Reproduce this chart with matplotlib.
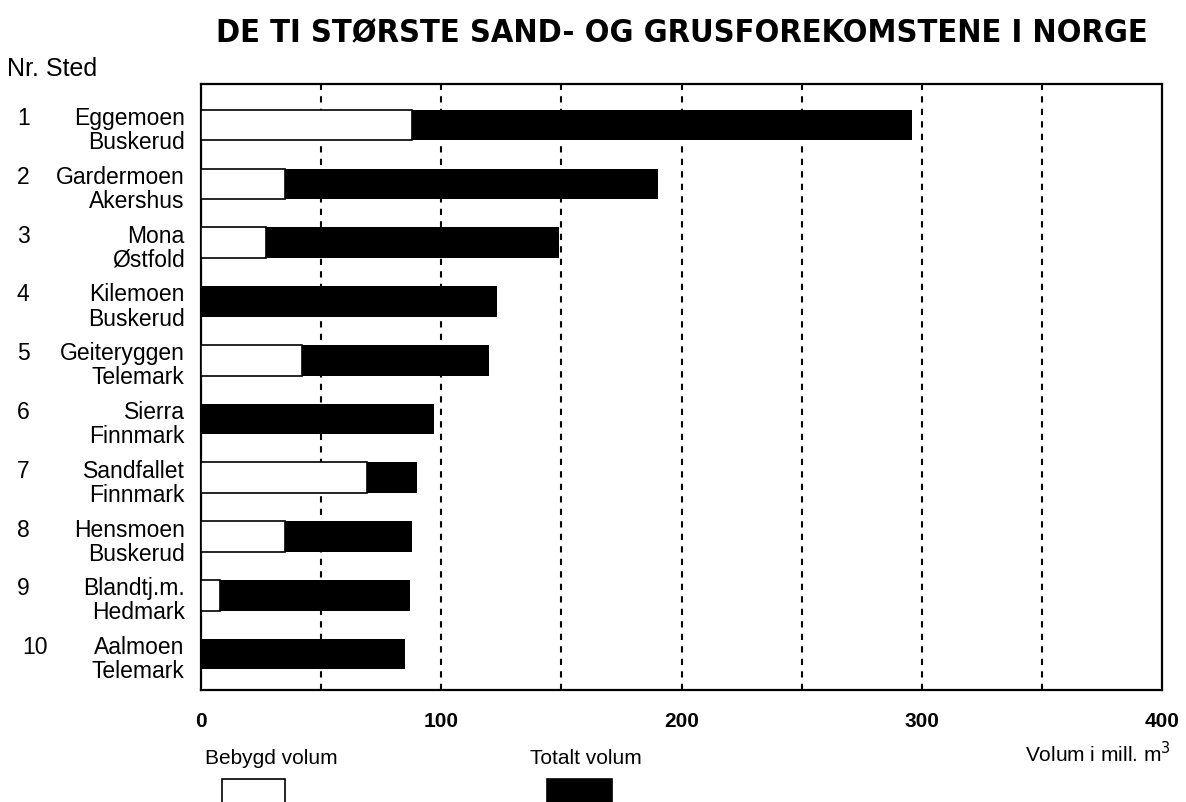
import matplotlib.pyplot as plt
from matplotlib.patches import Rectangle

plt.rcParams['font.family'] = ['Liberation Sans', 'DejaVu Sans']

# data (mill. m3)
nr = ['1', '2', '3', '4', '5', '6', '7', '8', '9', '10']
sted = ['Eggemoen', 'Gardermoen', 'Mona', 'Kilemoen', 'Geiteryggen',
        'Sierra', 'Sandfallet', 'Hensmoen', 'Blandtj.m.', 'Aalmoen']
fylke = ['Buskerud', 'Akershus', 'Østfold', 'Buskerud', 'Telemark',
         'Finnmark', 'Finnmark', 'Buskerud', 'Hedmark', 'Telemark']
totalt = [296, 190, 149, 123, 120, 97, 90, 88, 87, 85]
bebygd = [88, 35, 27, 0, 42, 0, 69, 35, 8, 0]
x_ticks = [0, 100, 200, 300, 400]

fig = plt.figure(figsize=(11.86, 8.02), dpi=100)
ax = fig.add_axes([0.1695, 0.1397, 0.8103, 0.7556])

pos = list(range(len(sted)))
ax.barh(pos, totalt, height=0.52, color='black', zorder=2)
lw = [1.2 if b > 0 else 0 for b in bebygd]
ax.barh(pos, bebygd, height=0.52, color='white', edgecolor='black',
        linewidth=lw, zorder=3)

ax.set_xlim(0, 400)
ax.set_ylim(9.61, -0.70)
for gx in range(50, 400, 50):
    ax.axvline(gx, color='black', lw=1.5, ls=(0, (3, 3)), zorder=1)

ax.set_yticks([])
ax.set_xticks(x_ticks)
ax.set_xticklabels([str(t) for t in x_ticks], fontsize=15, fontweight='bold')
ax.tick_params(axis='x', length=0, pad=16)
for sp in ax.spines.values():
    sp.set_linewidth(1.6)

# row labels
yt = ax.get_yaxis_transform()
for i in pos:
    ax.text(-0.017, i - 0.11, sted[i], transform=yt,
            ha='right', va='center', fontsize=16.5)
    ax.text(-0.017, i + 0.30, fylke[i], transform=yt,
            ha='right', va='center', fontsize=16.5)
    ax.text(-0.1915 if len(nr[i]) == 1 else -0.186, i - 0.11, nr[i],
            transform=yt, ha='left', va='center', fontsize=16.5)

fig.text(0.006, 0.914, 'Nr. Sted', fontsize=18, ha='left', va='center')
fig.text(0.5746, 0.958, 'DE TI STØRSTE SAND- OG GRUSFOREKOMSTENE I NORGE',
         fontsize=23.3, fontweight='bold', ha='center', va='center',
         family=['DejaVu Sans', 'Liberation Sans'], fontstretch='condensed')

# legend
fig.text(0.173, 0.042, 'Bebygd volum', fontsize=15, ha='left', va='bottom')
fig.text(0.447, 0.042, 'Totalt volum', fontsize=15, ha='left', va='bottom')
fig.text(0.987, 0.045, 'Volum i mill. m$^3$', fontsize=15, ha='right', va='bottom')
fig.add_artist(Rectangle((0.187, -0.01), 0.053, 0.039, transform=fig.transFigure,
                         facecolor='white', edgecolor='black', lw=1.2))
fig.add_artist(Rectangle((0.461, -0.01), 0.055, 0.039, transform=fig.transFigure,
                         facecolor='black', edgecolor='black', lw=1.2))

fig.savefig('out.png', dpi=100)
